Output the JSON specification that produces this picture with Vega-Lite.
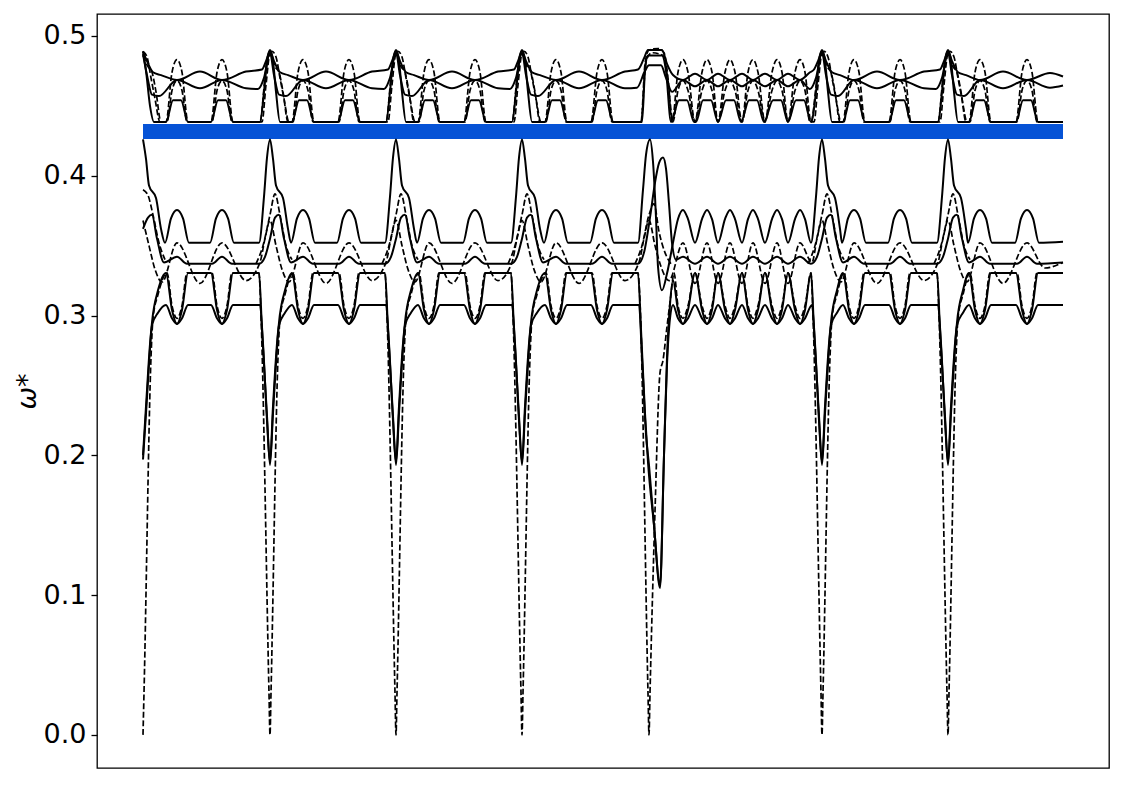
{
  "$schema": "https://vega.github.io/schema/vega-lite/v6.json",
  "width": 1012,
  "height": 754,
  "autosize": {"type": "none"},
  "padding": {"left": 97, "top": 14, "right": 16, "bottom": 17},
  "background": "white",
  "datasets": {
    "band": [
      {"x": 143, "y": 0.4316},
      {"x": 1063, "y": 0.4316}
    ],
    "solid": [
      {"s":"a","x":143,"y":0.426},{"s":"a","x":146,"y":0.412},{"s":"a","x":149,"y":0.393},{"s":"a","x":156,"y":0.384},{"s":"a","x":161,"y":0.362},{"s":"a","x":165,"y":0.352},{"s":"a","x":171,"y":0.3695},{"s":"a","x":177,"y":0.3755},{"s":"a","x":183,"y":0.3695},{"s":"a","x":189,"y":0.352},{"s":"a","x":210,"y":0.352},{"s":"a","x":216,"y":0.3695},{"s":"a","x":222,"y":0.3755},{"s":"a","x":228,"y":0.3695},{"s":"a","x":234,"y":0.352},{"s":"a","x":259,"y":0.352},{"s":"a","x":264,"y":0.385},{"s":"a","x":267,"y":0.413},{"s":"a","x":270,"y":0.426},
      {"s":"a","x":273,"y":0.412},{"s":"a","x":276,"y":0.393},{"s":"a","x":283,"y":0.384},{"s":"a","x":288,"y":0.362},{"s":"a","x":291,"y":0.352},{"s":"a","x":297,"y":0.3695},{"s":"a","x":303,"y":0.3755},{"s":"a","x":309,"y":0.3695},{"s":"a","x":315,"y":0.352},{"s":"a","x":337,"y":0.352},{"s":"a","x":343,"y":0.3695},{"s":"a","x":349,"y":0.3755},{"s":"a","x":355,"y":0.3695},{"s":"a","x":361,"y":0.352},{"s":"a","x":385,"y":0.352},{"s":"a","x":390,"y":0.385},{"s":"a","x":393,"y":0.413},{"s":"a","x":396,"y":0.426},
      {"s":"a","x":399,"y":0.412},{"s":"a","x":402,"y":0.393},{"s":"a","x":409,"y":0.384},{"s":"a","x":414,"y":0.362},{"s":"a","x":417,"y":0.352},{"s":"a","x":423,"y":0.3695},{"s":"a","x":429,"y":0.3755},{"s":"a","x":435,"y":0.3695},{"s":"a","x":441,"y":0.352},{"s":"a","x":463,"y":0.352},{"s":"a","x":469,"y":0.3695},{"s":"a","x":475,"y":0.3755},{"s":"a","x":481,"y":0.3695},{"s":"a","x":487,"y":0.352},{"s":"a","x":511,"y":0.352},{"s":"a","x":516,"y":0.385},{"s":"a","x":519,"y":0.413},{"s":"a","x":522,"y":0.426},
      {"s":"a","x":525,"y":0.412},{"s":"a","x":528,"y":0.393},{"s":"a","x":535,"y":0.384},{"s":"a","x":540,"y":0.362},{"s":"a","x":544,"y":0.352},{"s":"a","x":550,"y":0.3695},{"s":"a","x":556,"y":0.3755},{"s":"a","x":562,"y":0.3695},{"s":"a","x":568,"y":0.352},{"s":"a","x":590,"y":0.352},{"s":"a","x":596,"y":0.3695},{"s":"a","x":602,"y":0.3755},{"s":"a","x":608,"y":0.3695},{"s":"a","x":614,"y":0.352},{"s":"a","x":638,"y":0.352},{"s":"a","x":643,"y":0.39},{"s":"a","x":646,"y":0.415},{"s":"a","x":650,"y":0.426},
      {"s":"a","x":653,"y":0.41},{"s":"a","x":656,"y":0.37},{"s":"a","x":658,"y":0.335},{"s":"a","x":662,"y":0.318},{"s":"a","x":667,"y":0.33},{"s":"a","x":673,"y":0.352},{"s":"a","x":678,"y":0.369},{"s":"a","x":683,"y":0.3755},{"s":"a","x":688,"y":0.369},{"s":"a","x":695,"y":0.352},{"s":"a","x":702,"y":0.369},{"s":"a","x":707,"y":0.3755},{"s":"a","x":712,"y":0.369},{"s":"a","x":718,"y":0.352},{"s":"a","x":725,"y":0.369},{"s":"a","x":730,"y":0.3755},{"s":"a","x":735,"y":0.369},{"s":"a","x":742,"y":0.352},{"s":"a","x":748,"y":0.369},{"s":"a","x":753,"y":0.3755},{"s":"a","x":758,"y":0.369},{"s":"a","x":765,"y":0.352},{"s":"a","x":772,"y":0.369},{"s":"a","x":777,"y":0.3755},{"s":"a","x":782,"y":0.369},{"s":"a","x":788,"y":0.352},{"s":"a","x":795,"y":0.369},{"s":"a","x":800,"y":0.3755},{"s":"a","x":805,"y":0.369},{"s":"a","x":811,"y":0.352},{"s":"a","x":816,"y":0.385},{"s":"a","x":819,"y":0.413},{"s":"a","x":822,"y":0.426},
      {"s":"a","x":825,"y":0.412},{"s":"a","x":828,"y":0.393},{"s":"a","x":835,"y":0.384},{"s":"a","x":840,"y":0.362},{"s":"a","x":842,"y":0.352},{"s":"a","x":848,"y":0.3695},{"s":"a","x":854,"y":0.3755},{"s":"a","x":860,"y":0.3695},{"s":"a","x":866,"y":0.352},{"s":"a","x":888,"y":0.352},{"s":"a","x":894,"y":0.3695},{"s":"a","x":900,"y":0.3755},{"s":"a","x":906,"y":0.3695},{"s":"a","x":912,"y":0.352},{"s":"a","x":937,"y":0.352},{"s":"a","x":942,"y":0.385},{"s":"a","x":945,"y":0.413},{"s":"a","x":948,"y":0.426},
      {"s":"a","x":951,"y":0.412},{"s":"a","x":954,"y":0.393},{"s":"a","x":961,"y":0.384},{"s":"a","x":966,"y":0.362},{"s":"a","x":968,"y":0.352},{"s":"a","x":974,"y":0.3695},{"s":"a","x":980,"y":0.3755},{"s":"a","x":986,"y":0.3695},{"s":"a","x":992,"y":0.352},{"s":"a","x":1015,"y":0.352},{"s":"a","x":1021,"y":0.3695},{"s":"a","x":1027,"y":0.3755},{"s":"a","x":1033,"y":0.3695},{"s":"a","x":1039,"y":0.352},{"s":"a","x":1063,"y":0.3527},

      {"s":"c","x":143,"y":0.362},{"s":"c","x":148,"y":0.37},{"s":"c","x":152,"y":0.372},{"s":"c","x":157,"y":0.355},{"s":"c","x":164,"y":0.338},{"s":"c","x":177,"y":0.342},{"s":"c","x":187,"y":0.337},{"s":"c","x":212,"y":0.337},{"s":"c","x":222,"y":0.342},{"s":"c","x":232,"y":0.337},{"s":"c","x":259,"y":0.337},{"s":"c","x":265,"y":0.342},{"s":"c","x":270,"y":0.355},
      {"s":"c","x":275,"y":0.37},{"s":"c","x":279,"y":0.372},{"s":"c","x":284,"y":0.355},{"s":"c","x":291,"y":0.338},{"s":"c","x":303,"y":0.342},{"s":"c","x":313,"y":0.337},{"s":"c","x":339,"y":0.337},{"s":"c","x":349,"y":0.342},{"s":"c","x":359,"y":0.337},{"s":"c","x":385,"y":0.337},{"s":"c","x":391,"y":0.342},{"s":"c","x":396,"y":0.355},
      {"s":"c","x":401,"y":0.37},{"s":"c","x":405,"y":0.372},{"s":"c","x":410,"y":0.355},{"s":"c","x":417,"y":0.338},{"s":"c","x":429,"y":0.342},{"s":"c","x":439,"y":0.337},{"s":"c","x":465,"y":0.337},{"s":"c","x":475,"y":0.342},{"s":"c","x":485,"y":0.337},{"s":"c","x":511,"y":0.337},{"s":"c","x":517,"y":0.342},{"s":"c","x":522,"y":0.355},
      {"s":"c","x":527,"y":0.37},{"s":"c","x":531,"y":0.372},{"s":"c","x":536,"y":0.355},{"s":"c","x":543,"y":0.338},{"s":"c","x":556,"y":0.342},{"s":"c","x":566,"y":0.337},{"s":"c","x":592,"y":0.337},{"s":"c","x":602,"y":0.342},{"s":"c","x":612,"y":0.337},{"s":"c","x":638,"y":0.337},{"s":"c","x":644,"y":0.345},{"s":"c","x":650,"y":0.37},{"s":"c","x":655,"y":0.395},{"s":"c","x":659,"y":0.409},{"s":"c","x":663,"y":0.413},{"s":"c","x":666,"y":0.405},{"s":"c","x":669,"y":0.38},{"s":"c","x":672,"y":0.352},{"s":"c","x":676,"y":0.34},
      {"s":"c","x":683,"y":0.342},{"s":"c","x":695,"y":0.337},{"s":"c","x":707,"y":0.342},{"s":"c","x":718,"y":0.337},{"s":"c","x":730,"y":0.342},{"s":"c","x":742,"y":0.337},{"s":"c","x":753,"y":0.342},{"s":"c","x":765,"y":0.337},{"s":"c","x":777,"y":0.342},{"s":"c","x":788,"y":0.337},{"s":"c","x":800,"y":0.342},{"s":"c","x":811,"y":0.337},{"s":"c","x":817,"y":0.342},{"s":"c","x":822,"y":0.355},
      {"s":"c","x":827,"y":0.37},{"s":"c","x":831,"y":0.372},{"s":"c","x":836,"y":0.355},{"s":"c","x":843,"y":0.338},{"s":"c","x":854,"y":0.342},{"s":"c","x":864,"y":0.337},{"s":"c","x":890,"y":0.337},{"s":"c","x":900,"y":0.342},{"s":"c","x":910,"y":0.337},{"s":"c","x":937,"y":0.337},{"s":"c","x":943,"y":0.342},{"s":"c","x":948,"y":0.355},
      {"s":"c","x":953,"y":0.37},{"s":"c","x":957,"y":0.372},{"s":"c","x":962,"y":0.355},{"s":"c","x":969,"y":0.338},{"s":"c","x":980,"y":0.342},{"s":"c","x":990,"y":0.337},{"s":"c","x":1017,"y":0.337},{"s":"c","x":1027,"y":0.342},{"s":"c","x":1037,"y":0.337},{"s":"c","x":1063,"y":0.338},

      {"s":"d","x":143,"y":0.197},{"s":"d","x":146,"y":0.23},{"s":"d","x":152,"y":0.295},{"s":"d","x":158,"y":0.318},{"s":"d","x":166,"y":0.3305},{"s":"d","x":172,"y":0.304},{"s":"d","x":177,"y":0.294},{"s":"d","x":182,"y":0.304},{"s":"d","x":188,"y":0.3305},{"s":"d","x":211,"y":0.3305},{"s":"d","x":217,"y":0.304},{"s":"d","x":222,"y":0.294},{"s":"d","x":227,"y":0.304},{"s":"d","x":233,"y":0.3305},{"s":"d","x":259,"y":0.3305},{"s":"d","x":262,"y":0.29},{"s":"d","x":267,"y":0.228},{"s":"d","x":270,"y":0.193},
      {"s":"d","x":273,"y":0.23},{"s":"d","x":279,"y":0.295},{"s":"d","x":285,"y":0.318},{"s":"d","x":292,"y":0.3305},{"s":"d","x":298,"y":0.304},{"s":"d","x":303,"y":0.294},{"s":"d","x":308,"y":0.304},{"s":"d","x":314,"y":0.3305},{"s":"d","x":338,"y":0.3305},{"s":"d","x":344,"y":0.304},{"s":"d","x":349,"y":0.294},{"s":"d","x":354,"y":0.304},{"s":"d","x":360,"y":0.3305},{"s":"d","x":385,"y":0.3305},{"s":"d","x":388,"y":0.29},{"s":"d","x":393,"y":0.228},{"s":"d","x":396,"y":0.193},
      {"s":"d","x":399,"y":0.23},{"s":"d","x":405,"y":0.295},{"s":"d","x":411,"y":0.318},{"s":"d","x":418,"y":0.3305},{"s":"d","x":424,"y":0.304},{"s":"d","x":429,"y":0.294},{"s":"d","x":434,"y":0.304},{"s":"d","x":440,"y":0.3305},{"s":"d","x":464,"y":0.3305},{"s":"d","x":470,"y":0.304},{"s":"d","x":475,"y":0.294},{"s":"d","x":480,"y":0.304},{"s":"d","x":486,"y":0.3305},{"s":"d","x":511,"y":0.3305},{"s":"d","x":514,"y":0.29},{"s":"d","x":519,"y":0.228},{"s":"d","x":522,"y":0.193},
      {"s":"d","x":525,"y":0.23},{"s":"d","x":531,"y":0.295},{"s":"d","x":537,"y":0.318},{"s":"d","x":545,"y":0.3305},{"s":"d","x":551,"y":0.304},{"s":"d","x":556,"y":0.294},{"s":"d","x":561,"y":0.304},{"s":"d","x":567,"y":0.3305},{"s":"d","x":591,"y":0.3305},{"s":"d","x":597,"y":0.304},{"s":"d","x":602,"y":0.294},{"s":"d","x":607,"y":0.304},{"s":"d","x":613,"y":0.3305},{"s":"d","x":638,"y":0.3305},{"s":"d","x":641,"y":0.29},{"s":"d","x":645,"y":0.23},{"s":"d","x":648,"y":0.195},{"s":"d","x":654,"y":0.15},{"s":"d","x":660,"y":0.105},{"s":"d","x":664,"y":0.2},{"s":"d","x":667,"y":0.27},{"s":"d","x":670,"y":0.308},{"s":"d","x":673,"y":0.325},
      {"s":"d","x":678,"y":0.304},{"s":"d","x":683,"y":0.294},{"s":"d","x":688,"y":0.304},{"s":"d","x":695,"y":0.3305},{"s":"d","x":702,"y":0.304},{"s":"d","x":707,"y":0.294},{"s":"d","x":712,"y":0.304},{"s":"d","x":718,"y":0.3305},{"s":"d","x":725,"y":0.304},{"s":"d","x":730,"y":0.294},{"s":"d","x":735,"y":0.304},{"s":"d","x":742,"y":0.3305},{"s":"d","x":748,"y":0.304},{"s":"d","x":753,"y":0.294},{"s":"d","x":758,"y":0.304},{"s":"d","x":765,"y":0.3305},{"s":"d","x":772,"y":0.304},{"s":"d","x":777,"y":0.294},{"s":"d","x":782,"y":0.304},{"s":"d","x":788,"y":0.3305},{"s":"d","x":795,"y":0.304},{"s":"d","x":800,"y":0.294},{"s":"d","x":805,"y":0.304},{"s":"d","x":811,"y":0.3305},{"s":"d","x":814,"y":0.29},{"s":"d","x":819,"y":0.228},{"s":"d","x":822,"y":0.193},
      {"s":"d","x":825,"y":0.23},{"s":"d","x":831,"y":0.295},{"s":"d","x":837,"y":0.318},{"s":"d","x":843,"y":0.3305},{"s":"d","x":849,"y":0.304},{"s":"d","x":854,"y":0.294},{"s":"d","x":859,"y":0.304},{"s":"d","x":865,"y":0.3305},{"s":"d","x":889,"y":0.3305},{"s":"d","x":895,"y":0.304},{"s":"d","x":900,"y":0.294},{"s":"d","x":905,"y":0.304},{"s":"d","x":911,"y":0.3305},{"s":"d","x":937,"y":0.3305},{"s":"d","x":940,"y":0.29},{"s":"d","x":945,"y":0.228},{"s":"d","x":948,"y":0.193},
      {"s":"d","x":951,"y":0.23},{"s":"d","x":957,"y":0.295},{"s":"d","x":963,"y":0.318},{"s":"d","x":969,"y":0.3305},{"s":"d","x":975,"y":0.304},{"s":"d","x":980,"y":0.294},{"s":"d","x":985,"y":0.304},{"s":"d","x":991,"y":0.3305},{"s":"d","x":1016,"y":0.3305},{"s":"d","x":1022,"y":0.304},{"s":"d","x":1027,"y":0.294},{"s":"d","x":1032,"y":0.304},{"s":"d","x":1038,"y":0.3305},{"s":"d","x":1063,"y":0.3305},

      {"s":"e","x":143,"y":0.2},{"s":"e","x":146,"y":0.235},{"s":"e","x":152,"y":0.293},{"s":"e","x":158,"y":0.302},{"s":"e","x":166,"y":0.3076},{"s":"e","x":172,"y":0.298},{"s":"e","x":177,"y":0.294},{"s":"e","x":182,"y":0.298},{"s":"e","x":188,"y":0.3076},{"s":"e","x":211,"y":0.3076},{"s":"e","x":217,"y":0.298},{"s":"e","x":222,"y":0.294},{"s":"e","x":227,"y":0.298},{"s":"e","x":233,"y":0.3076},{"s":"e","x":260,"y":0.3076},{"s":"e","x":263,"y":0.28},{"s":"e","x":267,"y":0.225},{"s":"e","x":270,"y":0.195},
      {"s":"e","x":273,"y":0.235},{"s":"e","x":279,"y":0.293},{"s":"e","x":285,"y":0.302},{"s":"e","x":292,"y":0.3076},{"s":"e","x":298,"y":0.298},{"s":"e","x":303,"y":0.294},{"s":"e","x":308,"y":0.298},{"s":"e","x":314,"y":0.3076},{"s":"e","x":338,"y":0.3076},{"s":"e","x":344,"y":0.298},{"s":"e","x":349,"y":0.294},{"s":"e","x":354,"y":0.298},{"s":"e","x":360,"y":0.3076},{"s":"e","x":386,"y":0.3076},{"s":"e","x":389,"y":0.28},{"s":"e","x":393,"y":0.225},{"s":"e","x":396,"y":0.195},
      {"s":"e","x":399,"y":0.235},{"s":"e","x":405,"y":0.293},{"s":"e","x":411,"y":0.302},{"s":"e","x":418,"y":0.3076},{"s":"e","x":424,"y":0.298},{"s":"e","x":429,"y":0.294},{"s":"e","x":434,"y":0.298},{"s":"e","x":440,"y":0.3076},{"s":"e","x":464,"y":0.3076},{"s":"e","x":470,"y":0.298},{"s":"e","x":475,"y":0.294},{"s":"e","x":480,"y":0.298},{"s":"e","x":486,"y":0.3076},{"s":"e","x":512,"y":0.3076},{"s":"e","x":515,"y":0.28},{"s":"e","x":519,"y":0.225},{"s":"e","x":522,"y":0.195},
      {"s":"e","x":525,"y":0.235},{"s":"e","x":531,"y":0.293},{"s":"e","x":537,"y":0.302},{"s":"e","x":545,"y":0.3076},{"s":"e","x":551,"y":0.298},{"s":"e","x":556,"y":0.294},{"s":"e","x":561,"y":0.298},{"s":"e","x":567,"y":0.3076},{"s":"e","x":591,"y":0.3076},{"s":"e","x":597,"y":0.298},{"s":"e","x":602,"y":0.294},{"s":"e","x":607,"y":0.298},{"s":"e","x":613,"y":0.3076},{"s":"e","x":639,"y":0.3076},{"s":"e","x":642,"y":0.27},{"s":"e","x":646,"y":0.215},{"s":"e","x":649,"y":0.193},{"s":"e","x":654,"y":0.15},{"s":"e","x":660,"y":0.107},{"s":"e","x":664,"y":0.2},{"s":"e","x":667,"y":0.265},{"s":"e","x":670,"y":0.298},{"s":"e","x":673,"y":0.3076},
      {"s":"e","x":678,"y":0.298},{"s":"e","x":683,"y":0.294},{"s":"e","x":688,"y":0.298},{"s":"e","x":695,"y":0.3076},{"s":"e","x":702,"y":0.298},{"s":"e","x":707,"y":0.294},{"s":"e","x":712,"y":0.298},{"s":"e","x":718,"y":0.3076},{"s":"e","x":725,"y":0.298},{"s":"e","x":730,"y":0.294},{"s":"e","x":735,"y":0.298},{"s":"e","x":742,"y":0.3076},{"s":"e","x":748,"y":0.298},{"s":"e","x":753,"y":0.294},{"s":"e","x":758,"y":0.298},{"s":"e","x":765,"y":0.3076},{"s":"e","x":772,"y":0.298},{"s":"e","x":777,"y":0.294},{"s":"e","x":782,"y":0.298},{"s":"e","x":788,"y":0.3076},{"s":"e","x":795,"y":0.298},{"s":"e","x":800,"y":0.294},{"s":"e","x":805,"y":0.298},{"s":"e","x":812,"y":0.3076},{"s":"e","x":815,"y":0.28},{"s":"e","x":819,"y":0.225},{"s":"e","x":822,"y":0.195},
      {"s":"e","x":825,"y":0.235},{"s":"e","x":831,"y":0.293},{"s":"e","x":837,"y":0.302},{"s":"e","x":843,"y":0.3076},{"s":"e","x":849,"y":0.298},{"s":"e","x":854,"y":0.294},{"s":"e","x":859,"y":0.298},{"s":"e","x":865,"y":0.3076},{"s":"e","x":889,"y":0.3076},{"s":"e","x":895,"y":0.298},{"s":"e","x":900,"y":0.294},{"s":"e","x":905,"y":0.298},{"s":"e","x":911,"y":0.3076},{"s":"e","x":938,"y":0.3076},{"s":"e","x":941,"y":0.28},{"s":"e","x":945,"y":0.225},{"s":"e","x":948,"y":0.195},
      {"s":"e","x":951,"y":0.235},{"s":"e","x":957,"y":0.293},{"s":"e","x":963,"y":0.302},{"s":"e","x":969,"y":0.3076},{"s":"e","x":975,"y":0.298},{"s":"e","x":980,"y":0.294},{"s":"e","x":985,"y":0.298},{"s":"e","x":991,"y":0.3076},{"s":"e","x":1016,"y":0.3076},{"s":"e","x":1022,"y":0.298},{"s":"e","x":1027,"y":0.294},{"s":"e","x":1032,"y":0.298},{"s":"e","x":1038,"y":0.3076},{"s":"e","x":1063,"y":0.3076},

      {"s":"t0","x":143,"y":0.489},{"s":"t0","x":146,"y":0.475},{"s":"t0","x":150,"y":0.45},{"s":"t0","x":154,"y":0.4385},{"s":"t0","x":166,"y":0.4385},{"s":"t0","x":173,"y":0.454},{"s":"t0","x":181,"y":0.454},{"s":"t0","x":188,"y":0.4385},{"s":"t0","x":211,"y":0.4385},{"s":"t0","x":218,"y":0.454},{"s":"t0","x":226,"y":0.454},{"s":"t0","x":233,"y":0.4385},{"s":"t0","x":260,"y":0.4385},{"s":"t0","x":264,"y":0.46},{"s":"t0","x":267,"y":0.482},{"s":"t0","x":270,"y":0.49},
      {"s":"t0","x":273,"y":0.482},{"s":"t0","x":276,"y":0.46},{"s":"t0","x":280,"y":0.4385},{"s":"t0","x":292,"y":0.4385},{"s":"t0","x":299,"y":0.454},{"s":"t0","x":307,"y":0.454},{"s":"t0","x":314,"y":0.4385},{"s":"t0","x":338,"y":0.4385},{"s":"t0","x":345,"y":0.454},{"s":"t0","x":353,"y":0.454},{"s":"t0","x":360,"y":0.4385},{"s":"t0","x":386,"y":0.4385},{"s":"t0","x":390,"y":0.46},{"s":"t0","x":393,"y":0.482},{"s":"t0","x":396,"y":0.49},
      {"s":"t0","x":399,"y":0.482},{"s":"t0","x":402,"y":0.46},{"s":"t0","x":406,"y":0.4385},{"s":"t0","x":418,"y":0.4385},{"s":"t0","x":425,"y":0.454},{"s":"t0","x":433,"y":0.454},{"s":"t0","x":440,"y":0.4385},{"s":"t0","x":464,"y":0.4385},{"s":"t0","x":471,"y":0.454},{"s":"t0","x":479,"y":0.454},{"s":"t0","x":486,"y":0.4385},{"s":"t0","x":512,"y":0.4385},{"s":"t0","x":516,"y":0.46},{"s":"t0","x":519,"y":0.482},{"s":"t0","x":522,"y":0.49},
      {"s":"t0","x":525,"y":0.482},{"s":"t0","x":528,"y":0.46},{"s":"t0","x":532,"y":0.4385},{"s":"t0","x":545,"y":0.4385},{"s":"t0","x":552,"y":0.454},{"s":"t0","x":560,"y":0.454},{"s":"t0","x":567,"y":0.4385},{"s":"t0","x":591,"y":0.4385},{"s":"t0","x":598,"y":0.454},{"s":"t0","x":606,"y":0.454},{"s":"t0","x":613,"y":0.4385},{"s":"t0","x":642,"y":0.4385},{"s":"t0","x":645,"y":0.475},{"s":"t0","x":648,"y":0.486},{"s":"t0","x":662,"y":0.486},{"s":"t0","x":666,"y":0.475},{"s":"t0","x":671,"y":0.4385},
      {"s":"t0","x":679,"y":0.454},{"s":"t0","x":687,"y":0.454},{"s":"t0","x":694,"y":0.4385},{"s":"t0","x":696,"y":0.4385},{"s":"t0","x":703,"y":0.454},{"s":"t0","x":711,"y":0.454},{"s":"t0","x":718,"y":0.4385},{"s":"t0","x":726,"y":0.454},{"s":"t0","x":734,"y":0.454},{"s":"t0","x":741,"y":0.4385},{"s":"t0","x":749,"y":0.454},{"s":"t0","x":757,"y":0.454},{"s":"t0","x":764,"y":0.4385},{"s":"t0","x":773,"y":0.454},{"s":"t0","x":781,"y":0.454},{"s":"t0","x":788,"y":0.4385},{"s":"t0","x":796,"y":0.454},{"s":"t0","x":804,"y":0.454},{"s":"t0","x":811,"y":0.4385},{"s":"t0","x":816,"y":0.46},{"s":"t0","x":819,"y":0.482},{"s":"t0","x":822,"y":0.49},
      {"s":"t0","x":825,"y":0.482},{"s":"t0","x":828,"y":0.46},{"s":"t0","x":832,"y":0.4385},{"s":"t0","x":843,"y":0.4385},{"s":"t0","x":850,"y":0.454},{"s":"t0","x":858,"y":0.454},{"s":"t0","x":865,"y":0.4385},{"s":"t0","x":889,"y":0.4385},{"s":"t0","x":896,"y":0.454},{"s":"t0","x":904,"y":0.454},{"s":"t0","x":911,"y":0.4385},{"s":"t0","x":938,"y":0.4385},{"s":"t0","x":942,"y":0.46},{"s":"t0","x":945,"y":0.482},{"s":"t0","x":948,"y":0.49},
      {"s":"t0","x":951,"y":0.482},{"s":"t0","x":954,"y":0.46},{"s":"t0","x":958,"y":0.4385},{"s":"t0","x":969,"y":0.4385},{"s":"t0","x":976,"y":0.454},{"s":"t0","x":984,"y":0.454},{"s":"t0","x":991,"y":0.4385},{"s":"t0","x":1016,"y":0.4385},{"s":"t0","x":1023,"y":0.454},{"s":"t0","x":1031,"y":0.454},{"s":"t0","x":1038,"y":0.4385},{"s":"t0","x":1063,"y":0.4385},

      {"s":"t2","x":143,"y":0.489},{"s":"t2","x":147,"y":0.482},{"s":"t2","x":153,"y":0.474},{"s":"t2","x":161,"y":0.472},{"s":"t2","x":177,"y":0.4685},{"s":"t2","x":200,"y":0.4745},{"s":"t2","x":222,"y":0.4685},{"s":"t2","x":246,"y":0.4745},{"s":"t2","x":262,"y":0.476},{"s":"t2","x":266,"y":0.482},{"s":"t2","x":270,"y":0.489},
      {"s":"t2","x":274,"y":0.482},{"s":"t2","x":280,"y":0.474},{"s":"t2","x":288,"y":0.472},{"s":"t2","x":303,"y":0.4685},{"s":"t2","x":326,"y":0.4745},{"s":"t2","x":349,"y":0.4685},{"s":"t2","x":372,"y":0.4745},{"s":"t2","x":388,"y":0.476},{"s":"t2","x":392,"y":0.482},{"s":"t2","x":396,"y":0.489},
      {"s":"t2","x":400,"y":0.482},{"s":"t2","x":406,"y":0.474},{"s":"t2","x":414,"y":0.472},{"s":"t2","x":429,"y":0.4685},{"s":"t2","x":452,"y":0.4745},{"s":"t2","x":475,"y":0.4685},{"s":"t2","x":498,"y":0.4745},{"s":"t2","x":514,"y":0.476},{"s":"t2","x":518,"y":0.482},{"s":"t2","x":522,"y":0.489},
      {"s":"t2","x":526,"y":0.482},{"s":"t2","x":532,"y":0.474},{"s":"t2","x":540,"y":0.472},{"s":"t2","x":556,"y":0.4685},{"s":"t2","x":579,"y":0.4745},{"s":"t2","x":602,"y":0.4685},{"s":"t2","x":625,"y":0.4745},{"s":"t2","x":638,"y":0.476},{"s":"t2","x":644,"y":0.484},{"s":"t2","x":648,"y":0.49},{"s":"t2","x":662,"y":0.49},{"s":"t2","x":667,"y":0.48},{"s":"t2","x":673,"y":0.472},
      {"s":"t2","x":683,"y":0.4685},{"s":"t2","x":695,"y":0.473},{"s":"t2","x":707,"y":0.4685},{"s":"t2","x":718,"y":0.473},{"s":"t2","x":730,"y":0.4685},{"s":"t2","x":742,"y":0.473},{"s":"t2","x":753,"y":0.4685},{"s":"t2","x":765,"y":0.473},{"s":"t2","x":777,"y":0.4685},{"s":"t2","x":788,"y":0.473},{"s":"t2","x":800,"y":0.4685},{"s":"t2","x":810,"y":0.474},{"s":"t2","x":814,"y":0.476},{"s":"t2","x":818,"y":0.482},{"s":"t2","x":822,"y":0.489},
      {"s":"t2","x":826,"y":0.482},{"s":"t2","x":832,"y":0.474},{"s":"t2","x":840,"y":0.472},{"s":"t2","x":854,"y":0.4685},{"s":"t2","x":877,"y":0.4745},{"s":"t2","x":900,"y":0.4685},{"s":"t2","x":924,"y":0.4745},{"s":"t2","x":940,"y":0.476},{"s":"t2","x":944,"y":0.482},{"s":"t2","x":948,"y":0.489},
      {"s":"t2","x":952,"y":0.482},{"s":"t2","x":958,"y":0.474},{"s":"t2","x":966,"y":0.472},{"s":"t2","x":980,"y":0.4685},{"s":"t2","x":1003,"y":0.4745},{"s":"t2","x":1027,"y":0.4685},{"s":"t2","x":1050,"y":0.4735},{"s":"t2","x":1063,"y":0.471},

      {"s":"t3","x":143,"y":0.487},{"s":"t3","x":147,"y":0.472},{"s":"t3","x":152,"y":0.458},{"s":"t3","x":159,"y":0.457},{"s":"t3","x":177,"y":0.4685},{"s":"t3","x":200,"y":0.4625},{"s":"t3","x":222,"y":0.4685},{"s":"t3","x":246,"y":0.4625},{"s":"t3","x":258,"y":0.462},{"s":"t3","x":264,"y":0.47},{"s":"t3","x":270,"y":0.488},
      {"s":"t3","x":274,"y":0.472},{"s":"t3","x":279,"y":0.458},{"s":"t3","x":286,"y":0.457},{"s":"t3","x":303,"y":0.4685},{"s":"t3","x":326,"y":0.4625},{"s":"t3","x":349,"y":0.4685},{"s":"t3","x":372,"y":0.4625},{"s":"t3","x":384,"y":0.462},{"s":"t3","x":390,"y":0.47},{"s":"t3","x":396,"y":0.488},
      {"s":"t3","x":400,"y":0.472},{"s":"t3","x":405,"y":0.458},{"s":"t3","x":412,"y":0.457},{"s":"t3","x":429,"y":0.4685},{"s":"t3","x":452,"y":0.4625},{"s":"t3","x":475,"y":0.4685},{"s":"t3","x":498,"y":0.4625},{"s":"t3","x":510,"y":0.462},{"s":"t3","x":516,"y":0.47},{"s":"t3","x":522,"y":0.488},
      {"s":"t3","x":526,"y":0.472},{"s":"t3","x":531,"y":0.458},{"s":"t3","x":538,"y":0.457},{"s":"t3","x":556,"y":0.4685},{"s":"t3","x":579,"y":0.4625},{"s":"t3","x":602,"y":0.4685},{"s":"t3","x":625,"y":0.4625},{"s":"t3","x":637,"y":0.463},{"s":"t3","x":645,"y":0.475},{"s":"t3","x":649,"y":0.479},{"s":"t3","x":661,"y":0.479},{"s":"t3","x":666,"y":0.47},{"s":"t3","x":672,"y":0.46},
      {"s":"t3","x":683,"y":0.4685},{"s":"t3","x":695,"y":0.464},{"s":"t3","x":707,"y":0.4685},{"s":"t3","x":718,"y":0.464},{"s":"t3","x":730,"y":0.4685},{"s":"t3","x":742,"y":0.464},{"s":"t3","x":753,"y":0.4685},{"s":"t3","x":765,"y":0.464},{"s":"t3","x":777,"y":0.4685},{"s":"t3","x":788,"y":0.464},{"s":"t3","x":800,"y":0.4685},{"s":"t3","x":810,"y":0.462},{"s":"t3","x":816,"y":0.47},{"s":"t3","x":822,"y":0.488},
      {"s":"t3","x":826,"y":0.472},{"s":"t3","x":831,"y":0.458},{"s":"t3","x":838,"y":0.457},{"s":"t3","x":854,"y":0.4685},{"s":"t3","x":877,"y":0.4625},{"s":"t3","x":900,"y":0.4685},{"s":"t3","x":924,"y":0.4625},{"s":"t3","x":936,"y":0.462},{"s":"t3","x":942,"y":0.47},{"s":"t3","x":948,"y":0.488},
      {"s":"t3","x":952,"y":0.472},{"s":"t3","x":957,"y":0.458},{"s":"t3","x":964,"y":0.457},{"s":"t3","x":980,"y":0.4685},{"s":"t3","x":1003,"y":0.4625},{"s":"t3","x":1027,"y":0.4685},{"s":"t3","x":1050,"y":0.463},{"s":"t3","x":1063,"y":0.4645}
    ],
    "dashed": [
      {"s":"b","x":143,"y":0.368},{"s":"b","x":149,"y":0.35},{"s":"b","x":155,"y":0.333},{"s":"b","x":162,"y":0.324},{"s":"b","x":177,"y":0.352},{"s":"b","x":200,"y":0.323},{"s":"b","x":222,"y":0.352},{"s":"b","x":246,"y":0.325},{"s":"b","x":260,"y":0.338},{"s":"b","x":265,"y":0.355},{"s":"b","x":270,"y":0.368},
      {"s":"b","x":276,"y":0.35},{"s":"b","x":282,"y":0.333},{"s":"b","x":289,"y":0.324},{"s":"b","x":303,"y":0.352},{"s":"b","x":326,"y":0.323},{"s":"b","x":349,"y":0.352},{"s":"b","x":372,"y":0.325},{"s":"b","x":386,"y":0.338},{"s":"b","x":391,"y":0.355},{"s":"b","x":396,"y":0.368},
      {"s":"b","x":402,"y":0.35},{"s":"b","x":408,"y":0.333},{"s":"b","x":415,"y":0.324},{"s":"b","x":429,"y":0.352},{"s":"b","x":452,"y":0.323},{"s":"b","x":475,"y":0.352},{"s":"b","x":498,"y":0.325},{"s":"b","x":512,"y":0.338},{"s":"b","x":517,"y":0.355},{"s":"b","x":522,"y":0.368},
      {"s":"b","x":528,"y":0.35},{"s":"b","x":534,"y":0.333},{"s":"b","x":541,"y":0.324},{"s":"b","x":556,"y":0.352},{"s":"b","x":579,"y":0.323},{"s":"b","x":602,"y":0.352},{"s":"b","x":625,"y":0.325},{"s":"b","x":639,"y":0.338},{"s":"b","x":644,"y":0.355},{"s":"b","x":649,"y":0.368},
      {"s":"b","x":655,"y":0.35},{"s":"b","x":661,"y":0.335},{"s":"b","x":669,"y":0.325},{"s":"b","x":683,"y":0.352},{"s":"b","x":695,"y":0.323},{"s":"b","x":707,"y":0.352},{"s":"b","x":718,"y":0.323},{"s":"b","x":730,"y":0.352},{"s":"b","x":742,"y":0.323},{"s":"b","x":753,"y":0.352},{"s":"b","x":765,"y":0.323},{"s":"b","x":777,"y":0.352},{"s":"b","x":788,"y":0.323},{"s":"b","x":800,"y":0.352},{"s":"b","x":812,"y":0.338},{"s":"b","x":817,"y":0.355},{"s":"b","x":822,"y":0.368},
      {"s":"b","x":828,"y":0.35},{"s":"b","x":834,"y":0.333},{"s":"b","x":841,"y":0.324},{"s":"b","x":854,"y":0.352},{"s":"b","x":877,"y":0.323},{"s":"b","x":900,"y":0.352},{"s":"b","x":924,"y":0.325},{"s":"b","x":938,"y":0.338},{"s":"b","x":943,"y":0.355},{"s":"b","x":948,"y":0.368},
      {"s":"b","x":954,"y":0.35},{"s":"b","x":960,"y":0.333},{"s":"b","x":967,"y":0.324},{"s":"b","x":980,"y":0.352},{"s":"b","x":1003,"y":0.323},{"s":"b","x":1027,"y":0.352},{"s":"b","x":1045,"y":0.334},{"s":"b","x":1063,"y":0.338},

      {"s":"g","x":143,"y":0.0},{"s":"g","x":144,"y":0.03},{"s":"g","x":151,"y":0.27},{"s":"g","x":153,"y":0.298},{"s":"g","x":158,"y":0.315},{"s":"g","x":167,"y":0.3305},{"s":"g","x":172,"y":0.307},{"s":"g","x":177,"y":0.298},{"s":"g","x":182,"y":0.307},{"s":"g","x":187,"y":0.3305},{"s":"g","x":212,"y":0.3305},{"s":"g","x":217,"y":0.307},{"s":"g","x":222,"y":0.298},{"s":"g","x":227,"y":0.307},{"s":"g","x":232,"y":0.3305},{"s":"g","x":259,"y":0.3305},{"s":"g","x":261,"y":0.3},{"s":"g","x":269,"y":0.03},{"s":"g","x":270,"y":0.0},
      {"s":"g","x":271,"y":0.03},{"s":"g","x":278,"y":0.27},{"s":"g","x":280,"y":0.298},{"s":"g","x":285,"y":0.315},{"s":"g","x":293,"y":0.3305},{"s":"g","x":298,"y":0.307},{"s":"g","x":303,"y":0.298},{"s":"g","x":308,"y":0.307},{"s":"g","x":313,"y":0.3305},{"s":"g","x":339,"y":0.3305},{"s":"g","x":344,"y":0.307},{"s":"g","x":349,"y":0.298},{"s":"g","x":354,"y":0.307},{"s":"g","x":359,"y":0.3305},{"s":"g","x":385,"y":0.3305},{"s":"g","x":387,"y":0.3},{"s":"g","x":395,"y":0.03},{"s":"g","x":396,"y":0.0},
      {"s":"g","x":397,"y":0.03},{"s":"g","x":404,"y":0.27},{"s":"g","x":406,"y":0.298},{"s":"g","x":411,"y":0.315},{"s":"g","x":419,"y":0.3305},{"s":"g","x":424,"y":0.307},{"s":"g","x":429,"y":0.298},{"s":"g","x":434,"y":0.307},{"s":"g","x":439,"y":0.3305},{"s":"g","x":465,"y":0.3305},{"s":"g","x":470,"y":0.307},{"s":"g","x":475,"y":0.298},{"s":"g","x":480,"y":0.307},{"s":"g","x":485,"y":0.3305},{"s":"g","x":511,"y":0.3305},{"s":"g","x":513,"y":0.3},{"s":"g","x":521,"y":0.03},{"s":"g","x":522,"y":0.0},
      {"s":"g","x":523,"y":0.03},{"s":"g","x":530,"y":0.27},{"s":"g","x":532,"y":0.298},{"s":"g","x":537,"y":0.315},{"s":"g","x":546,"y":0.3305},{"s":"g","x":551,"y":0.307},{"s":"g","x":556,"y":0.298},{"s":"g","x":561,"y":0.307},{"s":"g","x":566,"y":0.3305},{"s":"g","x":592,"y":0.3305},{"s":"g","x":597,"y":0.307},{"s":"g","x":602,"y":0.298},{"s":"g","x":607,"y":0.307},{"s":"g","x":612,"y":0.3305},{"s":"g","x":638,"y":0.3305},{"s":"g","x":640,"y":0.31},{"s":"g","x":648,"y":0.03},{"s":"g","x":649,"y":0.0},{"s":"g","x":650,"y":0.03},{"s":"g","x":655,"y":0.16},{"s":"g","x":660,"y":0.259},{"s":"g","x":663,"y":0.268},{"s":"g","x":667,"y":0.292},{"s":"g","x":671,"y":0.315},{"s":"g","x":674,"y":0.3305},
      {"s":"g","x":678,"y":0.307},{"s":"g","x":683,"y":0.298},{"s":"g","x":688,"y":0.307},{"s":"g","x":695,"y":0.3305},{"s":"g","x":702,"y":0.307},{"s":"g","x":707,"y":0.298},{"s":"g","x":712,"y":0.307},{"s":"g","x":718,"y":0.3305},{"s":"g","x":725,"y":0.307},{"s":"g","x":730,"y":0.298},{"s":"g","x":735,"y":0.307},{"s":"g","x":742,"y":0.3305},{"s":"g","x":748,"y":0.307},{"s":"g","x":753,"y":0.298},{"s":"g","x":758,"y":0.307},{"s":"g","x":765,"y":0.3305},{"s":"g","x":772,"y":0.307},{"s":"g","x":777,"y":0.298},{"s":"g","x":782,"y":0.307},{"s":"g","x":788,"y":0.3305},{"s":"g","x":795,"y":0.307},{"s":"g","x":800,"y":0.298},{"s":"g","x":805,"y":0.307},{"s":"g","x":811,"y":0.3305},{"s":"g","x":813,"y":0.3},{"s":"g","x":821,"y":0.03},{"s":"g","x":822,"y":0.0},
      {"s":"g","x":823,"y":0.03},{"s":"g","x":830,"y":0.27},{"s":"g","x":832,"y":0.298},{"s":"g","x":837,"y":0.315},{"s":"g","x":844,"y":0.3305},{"s":"g","x":849,"y":0.307},{"s":"g","x":854,"y":0.298},{"s":"g","x":859,"y":0.307},{"s":"g","x":864,"y":0.3305},{"s":"g","x":890,"y":0.3305},{"s":"g","x":895,"y":0.307},{"s":"g","x":900,"y":0.298},{"s":"g","x":905,"y":0.307},{"s":"g","x":910,"y":0.3305},{"s":"g","x":937,"y":0.3305},{"s":"g","x":939,"y":0.3},{"s":"g","x":947,"y":0.03},{"s":"g","x":948,"y":0.0},
      {"s":"g","x":949,"y":0.03},{"s":"g","x":956,"y":0.27},{"s":"g","x":958,"y":0.298},{"s":"g","x":963,"y":0.315},{"s":"g","x":970,"y":0.3305},{"s":"g","x":975,"y":0.307},{"s":"g","x":980,"y":0.298},{"s":"g","x":985,"y":0.307},{"s":"g","x":990,"y":0.3305},{"s":"g","x":1017,"y":0.3305},{"s":"g","x":1022,"y":0.307},{"s":"g","x":1027,"y":0.298},{"s":"g","x":1032,"y":0.307},{"s":"g","x":1037,"y":0.3305},{"s":"g","x":1063,"y":0.3305},

      {"s":"x0","x":143,"y":0.39},{"s":"x0","x":148,"y":0.386},{"s":"x0","x":153,"y":0.372},{"s":"x0","x":159,"y":0.352},{"s":"x0","x":165,"y":0.34},
      {"s":"x1","x":256,"y":0.337},{"s":"x1","x":263,"y":0.35},{"s":"x1","x":270,"y":0.372},{"s":"x1","x":275,"y":0.387},{"s":"x1","x":280,"y":0.372},{"s":"x1","x":286,"y":0.35},{"s":"x1","x":292,"y":0.34},
      {"s":"x2","x":382,"y":0.337},{"s":"x2","x":389,"y":0.35},{"s":"x2","x":396,"y":0.372},{"s":"x2","x":401,"y":0.387},{"s":"x2","x":406,"y":0.372},{"s":"x2","x":412,"y":0.35},{"s":"x2","x":418,"y":0.34},
      {"s":"x3","x":508,"y":0.337},{"s":"x3","x":515,"y":0.35},{"s":"x3","x":522,"y":0.372},{"s":"x3","x":527,"y":0.387},{"s":"x3","x":532,"y":0.372},{"s":"x3","x":538,"y":0.35},{"s":"x3","x":544,"y":0.34},
      {"s":"x4","x":635,"y":0.337},{"s":"x4","x":642,"y":0.35},{"s":"x4","x":649,"y":0.372},{"s":"x4","x":654,"y":0.38},{"s":"x4","x":659,"y":0.36},{"s":"x4","x":665,"y":0.345},{"s":"x4","x":671,"y":0.337},
      {"s":"x5","x":808,"y":0.337},{"s":"x5","x":815,"y":0.35},{"s":"x5","x":822,"y":0.372},{"s":"x5","x":827,"y":0.387},{"s":"x5","x":832,"y":0.372},{"s":"x5","x":838,"y":0.35},{"s":"x5","x":844,"y":0.34},
      {"s":"x6","x":934,"y":0.337},{"s":"x6","x":941,"y":0.35},{"s":"x6","x":948,"y":0.372},{"s":"x6","x":953,"y":0.387},{"s":"x6","x":958,"y":0.372},{"s":"x6","x":964,"y":0.35},{"s":"x6","x":970,"y":0.34},

      {"s":"t4","x":143,"y":0.489},{"s":"t4","x":147,"y":0.485},{"s":"t4","x":151,"y":0.47},{"s":"t4","x":155,"y":0.455},{"s":"t4","x":160,"y":0.4385},{"s":"t4","x":166,"y":0.4385},{"s":"t4","x":172,"y":0.474},{"s":"t4","x":177,"y":0.483},{"s":"t4","x":182,"y":0.474},{"s":"t4","x":188,"y":0.4385},{"s":"t4","x":211,"y":0.4385},{"s":"t4","x":217,"y":0.474},{"s":"t4","x":222,"y":0.483},{"s":"t4","x":227,"y":0.474},{"s":"t4","x":233,"y":0.4385},{"s":"t4","x":260,"y":0.4385},{"s":"t4","x":265,"y":0.47},{"s":"t4","x":268,"y":0.485},{"s":"t4","x":272,"y":0.489},{"s":"t4","x":276,"y":0.485},{"s":"t4","x":280,"y":0.47},{"s":"t4","x":284,"y":0.455},{"s":"t4","x":289,"y":0.4385},
      {"s":"t4","x":292,"y":0.4385},{"s":"t4","x":298,"y":0.474},{"s":"t4","x":303,"y":0.483},{"s":"t4","x":308,"y":0.474},{"s":"t4","x":314,"y":0.4385},{"s":"t4","x":338,"y":0.4385},{"s":"t4","x":344,"y":0.474},{"s":"t4","x":349,"y":0.483},{"s":"t4","x":354,"y":0.474},{"s":"t4","x":360,"y":0.4385},{"s":"t4","x":386,"y":0.4385},{"s":"t4","x":391,"y":0.47},{"s":"t4","x":394,"y":0.485},{"s":"t4","x":398,"y":0.489},{"s":"t4","x":402,"y":0.485},{"s":"t4","x":406,"y":0.47},{"s":"t4","x":410,"y":0.455},{"s":"t4","x":415,"y":0.4385},
      {"s":"t4","x":418,"y":0.4385},{"s":"t4","x":424,"y":0.474},{"s":"t4","x":429,"y":0.483},{"s":"t4","x":434,"y":0.474},{"s":"t4","x":440,"y":0.4385},{"s":"t4","x":464,"y":0.4385},{"s":"t4","x":470,"y":0.474},{"s":"t4","x":475,"y":0.483},{"s":"t4","x":480,"y":0.474},{"s":"t4","x":486,"y":0.4385},{"s":"t4","x":512,"y":0.4385},{"s":"t4","x":517,"y":0.47},{"s":"t4","x":520,"y":0.485},{"s":"t4","x":524,"y":0.489},{"s":"t4","x":528,"y":0.485},{"s":"t4","x":532,"y":0.47},{"s":"t4","x":536,"y":0.455},{"s":"t4","x":541,"y":0.4385},
      {"s":"t4","x":545,"y":0.4385},{"s":"t4","x":551,"y":0.474},{"s":"t4","x":556,"y":0.483},{"s":"t4","x":561,"y":0.474},{"s":"t4","x":567,"y":0.4385},{"s":"t4","x":591,"y":0.4385},{"s":"t4","x":597,"y":0.474},{"s":"t4","x":602,"y":0.483},{"s":"t4","x":607,"y":0.474},{"s":"t4","x":613,"y":0.4385},{"s":"t4","x":641,"y":0.4385},{"s":"t4","x":645,"y":0.48},{"s":"t4","x":649,"y":0.49},{"s":"t4","x":658,"y":0.491},{"s":"t4","x":664,"y":0.488},{"s":"t4","x":668,"y":0.47},{"s":"t4","x":672,"y":0.4385},
      {"s":"t4","x":678,"y":0.474},{"s":"t4","x":683,"y":0.483},{"s":"t4","x":688,"y":0.474},{"s":"t4","x":695,"y":0.4385},{"s":"t4","x":702,"y":0.474},{"s":"t4","x":707,"y":0.483},{"s":"t4","x":712,"y":0.474},{"s":"t4","x":718,"y":0.4385},{"s":"t4","x":725,"y":0.474},{"s":"t4","x":730,"y":0.483},{"s":"t4","x":735,"y":0.474},{"s":"t4","x":742,"y":0.4385},{"s":"t4","x":748,"y":0.474},{"s":"t4","x":753,"y":0.483},{"s":"t4","x":758,"y":0.474},{"s":"t4","x":765,"y":0.4385},{"s":"t4","x":772,"y":0.474},{"s":"t4","x":777,"y":0.483},{"s":"t4","x":782,"y":0.474},{"s":"t4","x":788,"y":0.4385},{"s":"t4","x":795,"y":0.474},{"s":"t4","x":800,"y":0.483},{"s":"t4","x":805,"y":0.474},{"s":"t4","x":811,"y":0.4385},{"s":"t4","x":817,"y":0.47},{"s":"t4","x":820,"y":0.485},{"s":"t4","x":824,"y":0.489},{"s":"t4","x":828,"y":0.485},{"s":"t4","x":832,"y":0.47},{"s":"t4","x":836,"y":0.455},{"s":"t4","x":841,"y":0.4385},
      {"s":"t4","x":843,"y":0.4385},{"s":"t4","x":849,"y":0.474},{"s":"t4","x":854,"y":0.483},{"s":"t4","x":859,"y":0.474},{"s":"t4","x":865,"y":0.4385},{"s":"t4","x":889,"y":0.4385},{"s":"t4","x":895,"y":0.474},{"s":"t4","x":900,"y":0.483},{"s":"t4","x":905,"y":0.474},{"s":"t4","x":911,"y":0.4385},{"s":"t4","x":938,"y":0.4385},{"s":"t4","x":943,"y":0.47},{"s":"t4","x":946,"y":0.485},{"s":"t4","x":950,"y":0.489},{"s":"t4","x":954,"y":0.485},{"s":"t4","x":958,"y":0.47},{"s":"t4","x":962,"y":0.455},{"s":"t4","x":967,"y":0.4385},
      {"s":"t4","x":969,"y":0.4385},{"s":"t4","x":975,"y":0.474},{"s":"t4","x":980,"y":0.483},{"s":"t4","x":985,"y":0.474},{"s":"t4","x":991,"y":0.4385},{"s":"t4","x":1016,"y":0.4385},{"s":"t4","x":1022,"y":0.474},{"s":"t4","x":1027,"y":0.483},{"s":"t4","x":1032,"y":0.474},{"s":"t4","x":1038,"y":0.4385},{"s":"t4","x":1063,"y":0.4385},

      {"s":"t6","x":143,"y":0.486},{"s":"t6","x":148,"y":0.478},{"s":"t6","x":152,"y":0.474},{"s":"t6","x":156,"y":0.46},{"s":"t6","x":161,"y":0.4385},{"s":"t6","x":167,"y":0.4385},{"s":"t6","x":172,"y":0.461},{"s":"t6","x":177,"y":0.468},{"s":"t6","x":182,"y":0.461},{"s":"t6","x":187,"y":0.4385},{"s":"t6","x":212,"y":0.4385},{"s":"t6","x":217,"y":0.461},{"s":"t6","x":222,"y":0.468},{"s":"t6","x":227,"y":0.461},{"s":"t6","x":232,"y":0.4385},{"s":"t6","x":262,"y":0.4385},{"s":"t6","x":266,"y":0.465},{"s":"t6","x":270,"y":0.487},
      {"s":"t6","x":275,"y":0.478},{"s":"t6","x":279,"y":0.474},{"s":"t6","x":283,"y":0.46},{"s":"t6","x":288,"y":0.4385},{"s":"t6","x":293,"y":0.4385},{"s":"t6","x":298,"y":0.461},{"s":"t6","x":303,"y":0.468},{"s":"t6","x":308,"y":0.461},{"s":"t6","x":313,"y":0.4385},{"s":"t6","x":339,"y":0.4385},{"s":"t6","x":344,"y":0.461},{"s":"t6","x":349,"y":0.468},{"s":"t6","x":354,"y":0.461},{"s":"t6","x":359,"y":0.4385},{"s":"t6","x":388,"y":0.4385},{"s":"t6","x":392,"y":0.465},{"s":"t6","x":396,"y":0.487},
      {"s":"t6","x":401,"y":0.478},{"s":"t6","x":405,"y":0.474},{"s":"t6","x":409,"y":0.46},{"s":"t6","x":414,"y":0.4385},{"s":"t6","x":419,"y":0.4385},{"s":"t6","x":424,"y":0.461},{"s":"t6","x":429,"y":0.468},{"s":"t6","x":434,"y":0.461},{"s":"t6","x":439,"y":0.4385},{"s":"t6","x":465,"y":0.4385},{"s":"t6","x":470,"y":0.461},{"s":"t6","x":475,"y":0.468},{"s":"t6","x":480,"y":0.461},{"s":"t6","x":485,"y":0.4385},{"s":"t6","x":514,"y":0.4385},{"s":"t6","x":518,"y":0.465},{"s":"t6","x":522,"y":0.487},
      {"s":"t6","x":527,"y":0.478},{"s":"t6","x":531,"y":0.474},{"s":"t6","x":535,"y":0.46},{"s":"t6","x":540,"y":0.4385},{"s":"t6","x":546,"y":0.4385},{"s":"t6","x":551,"y":0.461},{"s":"t6","x":556,"y":0.468},{"s":"t6","x":561,"y":0.461},{"s":"t6","x":566,"y":0.4385},{"s":"t6","x":592,"y":0.4385},{"s":"t6","x":597,"y":0.461},{"s":"t6","x":602,"y":0.468},{"s":"t6","x":607,"y":0.461},{"s":"t6","x":612,"y":0.4385},{"s":"t6","x":641,"y":0.4385},{"s":"t6","x":646,"y":0.482},{"s":"t6","x":652,"y":0.488},{"s":"t6","x":663,"y":0.486},{"s":"t6","x":668,"y":0.468},{"s":"t6","x":673,"y":0.4385},
      {"s":"t6","x":678,"y":0.461},{"s":"t6","x":683,"y":0.468},{"s":"t6","x":688,"y":0.461},{"s":"t6","x":695,"y":0.4385},{"s":"t6","x":702,"y":0.461},{"s":"t6","x":707,"y":0.468},{"s":"t6","x":712,"y":0.461},{"s":"t6","x":718,"y":0.4385},{"s":"t6","x":725,"y":0.461},{"s":"t6","x":730,"y":0.468},{"s":"t6","x":735,"y":0.461},{"s":"t6","x":742,"y":0.4385},{"s":"t6","x":748,"y":0.461},{"s":"t6","x":753,"y":0.468},{"s":"t6","x":758,"y":0.461},{"s":"t6","x":765,"y":0.4385},{"s":"t6","x":772,"y":0.461},{"s":"t6","x":777,"y":0.468},{"s":"t6","x":782,"y":0.461},{"s":"t6","x":788,"y":0.4385},{"s":"t6","x":795,"y":0.461},{"s":"t6","x":800,"y":0.468},{"s":"t6","x":805,"y":0.461},{"s":"t6","x":810,"y":0.4385},{"s":"t6","x":814,"y":0.4385},{"s":"t6","x":818,"y":0.465},{"s":"t6","x":822,"y":0.487},
      {"s":"t6","x":827,"y":0.478},{"s":"t6","x":831,"y":0.474},{"s":"t6","x":835,"y":0.46},{"s":"t6","x":840,"y":0.4385},{"s":"t6","x":844,"y":0.4385},{"s":"t6","x":849,"y":0.461},{"s":"t6","x":854,"y":0.468},{"s":"t6","x":859,"y":0.461},{"s":"t6","x":864,"y":0.4385},{"s":"t6","x":890,"y":0.4385},{"s":"t6","x":895,"y":0.461},{"s":"t6","x":900,"y":0.468},{"s":"t6","x":905,"y":0.461},{"s":"t6","x":910,"y":0.4385},{"s":"t6","x":940,"y":0.4385},{"s":"t6","x":944,"y":0.465},{"s":"t6","x":948,"y":0.487},
      {"s":"t6","x":953,"y":0.478},{"s":"t6","x":957,"y":0.474},{"s":"t6","x":961,"y":0.46},{"s":"t6","x":966,"y":0.4385},{"s":"t6","x":970,"y":0.4385},{"s":"t6","x":975,"y":0.461},{"s":"t6","x":980,"y":0.468},{"s":"t6","x":985,"y":0.461},{"s":"t6","x":990,"y":0.4385},{"s":"t6","x":1017,"y":0.4385},{"s":"t6","x":1022,"y":0.461},{"s":"t6","x":1027,"y":0.468},{"s":"t6","x":1032,"y":0.461},{"s":"t6","x":1037,"y":0.4385},{"s":"t6","x":1063,"y":0.4385}
    ]
  },
  "encoding": {
    "x": {"field": "x", "type": "quantitative", "scale": {"domain": [97, 1109], "nice": false, "zero": false}, "axis": null},
    "y": {
      "field": "y", "type": "quantitative",
      "scale": {"domain": [-0.0237, 0.5157], "nice": false, "zero": false},
      "axis": {"title": "ω*", "values": [0, 0.1, 0.2, 0.3, 0.4, 0.5], "format": ".1f"}
    }
  },
  "layer": [
    {
      "data": {"name": "band"},
      "mark": {"type": "line", "color": "#0653d6", "strokeWidth": 15, "strokeCap": "butt"}
    },
    {
      "data": {"name": "solid"},
      "mark": {"type": "line", "interpolate": "monotone", "color": "black", "strokeWidth": 2},
      "encoding": {"detail": {"field": "s"}}
    },
    {
      "data": {"name": "dashed"},
      "mark": {"type": "line", "interpolate": "monotone", "color": "black", "strokeWidth": 1.7, "strokeDash": [6, 2.6]},
      "encoding": {"detail": {"field": "s"}}
    }
  ],
  "config": {
    "view": {"stroke": "black", "strokeWidth": 1.3},
    "axis": {
      "grid": false,
      "domain": false,
      "labelFont": "DejaVu Sans",
      "labelFontSize": 27,
      "labelColor": "black",
      "labelPadding": 5,
      "tickColor": "black",
      "tickSize": 6,
      "tickWidth": 1.3,
      "titleFont": "DejaVu Sans",
      "titleFontSize": 27,
      "titleFontWeight": "normal",
      "titleFontStyle": "italic",
      "titleColor": "black",
      "titlePadding": 2
    }
  }
}
